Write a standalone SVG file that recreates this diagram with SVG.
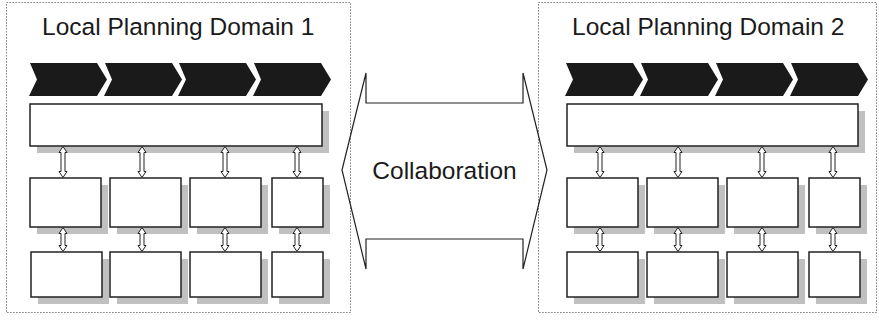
<svg xmlns="http://www.w3.org/2000/svg" width="879" height="322" viewBox="0 0 879 322">
<defs>
<style>
.domain{fill:none;stroke:#555;stroke-width:1;stroke-dasharray:1.2,1.8}
.title{font-family:"Liberation Sans",Arial,sans-serif;font-size:24.5px;fill:#1a1a1a}
.chev{fill:#1a1a1a}
.shadow{fill:#c0c0c0}
.box{fill:#fff;stroke:#222;stroke-width:1.5}
.darrow{fill:#fff;stroke:#222;stroke-width:1}
.collab{fill:none;stroke:#222;stroke-width:1.2}
</style>
<polygon id="chev" class="chev" points="1,0 68,0 78,16.5 68,33 0,33 8,16.5"/>
</defs>
<rect width="879" height="322" fill="#fff"/>

<g id="domain1">
<rect class="domain" x="6.5" y="2.5" width="344" height="310"/>
<text class="title" x="42" y="35">Local Planning Domain 1</text>
<use href="#chev" x="29" y="63"/>
<use href="#chev" x="104" y="63"/>
<use href="#chev" x="178" y="63"/>
<use href="#chev" x="253" y="63"/>
</g>
<g id="d1-main"><rect class="shadow" x="37" y="111" width="292" height="42"/><rect class="box" x="30" y="104" width="292" height="42"/></g>
<g id="d1-a1"><rect class="shadow" x="37" y="185" width="71" height="49"/><rect class="box" x="30" y="178" width="71" height="49"/></g>
<g id="d1-a2"><rect class="shadow" x="117" y="185" width="71" height="49"/><rect class="box" x="110" y="178" width="71" height="49"/></g>
<g id="d1-a3"><rect class="shadow" x="197" y="185" width="71" height="49"/><rect class="box" x="190" y="178" width="71" height="49"/></g>
<g id="d1-a4"><rect class="shadow" x="279" y="185" width="51" height="49"/><rect class="box" x="272" y="178" width="51" height="49"/></g>
<g id="d1-b1"><rect class="shadow" x="38" y="259" width="71" height="45"/><rect class="box" x="31" y="252" width="71" height="45"/></g>
<g id="d1-b2"><rect class="shadow" x="117" y="259" width="71" height="45"/><rect class="box" x="110" y="252" width="71" height="45"/></g>
<g id="d1-b3"><rect class="shadow" x="197" y="259" width="71" height="45"/><rect class="box" x="190" y="252" width="71" height="45"/></g>
<g id="d1-b4"><rect class="shadow" x="279" y="259" width="51" height="45"/><rect class="box" x="272" y="252" width="51" height="45"/></g>

<g id="domain2">
<rect class="domain" x="538.5" y="2.5" width="338" height="310"/>
<text class="title" x="572" y="35">Local Planning Domain 2</text>
<use href="#chev" x="565" y="63"/>
<use href="#chev" x="640" y="63"/>
<use href="#chev" x="715" y="63"/>
<use href="#chev" x="790" y="63"/>
</g>
<g id="d2-main"><rect class="shadow" x="574" y="111" width="291" height="42"/><rect class="box" x="567" y="104" width="291" height="42"/></g>
<g id="d2-a1"><rect class="shadow" x="574" y="185" width="71" height="49"/><rect class="box" x="567" y="178" width="71" height="49"/></g>
<g id="d2-a2"><rect class="shadow" x="654" y="185" width="71" height="49"/><rect class="box" x="647" y="178" width="71" height="49"/></g>
<g id="d2-a3"><rect class="shadow" x="734" y="185" width="71" height="49"/><rect class="box" x="727" y="178" width="71" height="49"/></g>
<g id="d2-a4"><rect class="shadow" x="816" y="185" width="51" height="49"/><rect class="box" x="809" y="178" width="51" height="49"/></g>
<g id="d2-b1"><rect class="shadow" x="574" y="259" width="71" height="45"/><rect class="box" x="567" y="252" width="71" height="45"/></g>
<g id="d2-b2"><rect class="shadow" x="654" y="259" width="71" height="45"/><rect class="box" x="647" y="252" width="71" height="45"/></g>
<g id="d2-b3"><rect class="shadow" x="734" y="259" width="71" height="45"/><rect class="box" x="727" y="252" width="71" height="45"/></g>
<g id="d2-b4"><rect class="shadow" x="816" y="259" width="51" height="45"/><rect class="box" x="809" y="252" width="51" height="45"/></g>

<g id="connectors">
<polygon class="darrow" points="63,146.5 67,152.5 65,152.5 65,171.5 67,171.5 63,177.5 59,171.5 61,171.5 61,152.5 59,152.5"/>
<polygon class="darrow" points="142,146.5 146,152.5 144,152.5 144,171.5 146,171.5 142,177.5 138,171.5 140,171.5 140,152.5 138,152.5"/>
<polygon class="darrow" points="225,146.5 229,152.5 227,152.5 227,171.5 229,171.5 225,177.5 221,171.5 223,171.5 223,152.5 221,152.5"/>
<polygon class="darrow" points="297,146.5 301,152.5 299,152.5 299,171.5 301,171.5 297,177.5 293,171.5 295,171.5 295,152.5 293,152.5"/>
<polygon class="darrow" points="63,227.5 67,233.5 65,233.5 65,245.5 67,245.5 63,251.5 59,245.5 61,245.5 61,233.5 59,233.5"/>
<polygon class="darrow" points="142,227.5 146,233.5 144,233.5 144,245.5 146,245.5 142,251.5 138,245.5 140,245.5 140,233.5 138,233.5"/>
<polygon class="darrow" points="225,227.5 229,233.5 227,233.5 227,245.5 229,245.5 225,251.5 221,245.5 223,245.5 223,233.5 221,233.5"/>
<polygon class="darrow" points="297,227.5 301,233.5 299,233.5 299,245.5 301,245.5 297,251.5 293,245.5 295,245.5 295,233.5 293,233.5"/>
<polygon class="darrow" points="600,146.5 604,152.5 602,152.5 602,171.5 604,171.5 600,177.5 596,171.5 598,171.5 598,152.5 596,152.5"/>
<polygon class="darrow" points="678,146.5 682,152.5 680,152.5 680,171.5 682,171.5 678,177.5 674,171.5 676,171.5 676,152.5 674,152.5"/>
<polygon class="darrow" points="762,146.5 766,152.5 764,152.5 764,171.5 766,171.5 762,177.5 758,171.5 760,171.5 760,152.5 758,152.5"/>
<polygon class="darrow" points="833,146.5 837,152.5 835,152.5 835,171.5 837,171.5 833,177.5 829,171.5 831,171.5 831,152.5 829,152.5"/>
<polygon class="darrow" points="600,227.5 604,233.5 602,233.5 602,245.5 604,245.5 600,251.5 596,245.5 598,245.5 598,233.5 596,233.5"/>
<polygon class="darrow" points="678,227.5 682,233.5 680,233.5 680,245.5 682,245.5 678,251.5 674,245.5 676,245.5 676,233.5 674,233.5"/>
<polygon class="darrow" points="762,227.5 766,233.5 764,233.5 764,245.5 766,245.5 762,251.5 758,245.5 760,245.5 760,233.5 758,233.5"/>
<polygon class="darrow" points="833,227.5 837,233.5 835,233.5 835,245.5 837,245.5 833,251.5 829,245.5 831,245.5 831,233.5 829,233.5"/>
</g>

<g id="collaboration">
<polygon class="collab" points="342,170 366,73 366,103 523,103 523,73 547,170 523,269 523,239 366,239 366,269"/>
<text class="title" x="444.5" y="179" text-anchor="middle">Collaboration</text>
</g>
</svg>
